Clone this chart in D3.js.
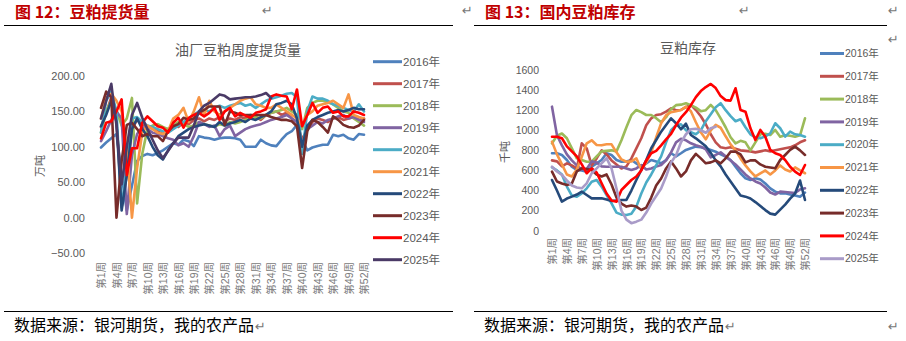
<!DOCTYPE html>
<html><head><meta charset="utf-8">
<script src="https://cdn.jsdelivr.net/npm/d3@7/dist/d3.min.js"></script>
<style>
body{margin:0;background:#fff;}
svg{display:block;}
text{font-family:"Liberation Sans","Noto Sans CJK SC",sans-serif;}
.cjk{font-family:"Noto Sans CJK SC","Liberation Sans",sans-serif;}
</style></head>
<body>
<svg id="c" width="906" height="341"></svg>
<script>
// ---------- DATA ----------
const years = ["2016年","2017年","2018年","2019年","2020年","2021年","2022年","2023年","2024年","2025年"];
const weeks = d3.range(1, 53);
const xTickWeeks = [1,4,7,10,13,16,19,22,25,28,31,34,37,40,43,46,49,52];
const leftTicks = [-50,0,50,100,150,200];
const rightTicks = [0,200,400,600,800,1000,1200,1400,1600];

// 油厂豆粕周度提货量 (万吨)
const pick2016 = [99,106,112,118,60,10,45,80,87,90,88,91,95,100,105,103,110,108,101,115,113,112,110,112,113,113,112,110,100,100,100,110,105,102,101,110,118,122,131,110,95,99,101,103,103,117,115,117,112,110,118,117];
const pick2017 = [128,148,170,140,15,60,125,138,132,128,126,122,118,125,130,128,135,132,138,140,136,140,138,142,136,140,138,142,140,145,142,138,145,148,150,145,148,140,135,110,125,135,140,138,135,140,142,138,140,142,138,140];
const pick2018 = [120,150,165,152,130,140,169,20,90,125,130,132,128,125,130,135,132,128,130,135,132,130,128,132,130,135,133,135,138,140,142,140,145,148,150,152,155,150,145,125,155,162,165,165,163,160,155,150,148,140,135,130];
const pick2019 = [108,122,138,150,140,5,88,118,128,125,120,118,115,112,110,102,105,100,115,135,132,128,130,115,125,130,115,120,125,128,130,132,135,138,140,142,145,140,135,92,125,130,135,133,138,140,143,145,140,142,138,135];
const pick2020 = [120,165,178,150,14,70,140,142,135,130,128,125,122,120,125,130,135,140,145,150,152,150,155,158,155,158,160,162,158,160,155,160,165,168,170,172,175,176,170,90,150,171,168,168,165,160,158,155,152,150,160,150];
const pick2021 = [140,170,175,165,150,100,0,70,120,130,125,120,118,122,140,145,155,135,150,170,145,165,150,145,150,155,160,165,168,170,160,158,155,155,160,155,150,145,140,130,145,150,158,160,162,165,160,155,174,145,142,140];
const pick2022 = [129,145,165,135,10,60,125,140,125,115,100,88,82,95,105,115,120,125,128,130,132,130,128,135,130,133,135,138,135,140,138,142,145,150,160,162,165,160,140,100,130,138,142,145,148,150,152,150,152,155,153,153];
const pick2023 = [155,178,170,0,80,131,134,125,115,118,115,115,108,122,129,132,141,138,140,148,152,157,157,157,131,150,148,145,145,145,145,145,145,142,140,138,138,136,129,70,122,138,135,128,120,143,138,131,128,127,130,138];
const pick2024 = [112,134,136,150,167,60,98,98,134,143,136,129,127,120,134,141,127,141,145,148,143,148,155,138,150,155,143,148,144,141,148,150,153,171,174,172,171,153,181,129,145,162,148,155,157,148,150,143,143,150,148,145];
const pick2025 = [140,165,189,130,47,100,145,162,141,125,110,95,84,94,105,113,113,113,130,150,158,162,168,174,172,167,168,169,170,170,171,173,176,169];

// 豆粕库存 (千吨)
const inv2016 = [771,771,754,704,637,604,600,588,637,670,704,771,754,704,687,690,704,670,637,670,704,690,671,704,771,740,771,804,821,837,830,820,804,787,760,737,704,637,572,522,505,522,510,470,422,389,372,372,360,350,339,380];
const inv2017 = [700,690,640,670,650,620,870,820,650,720,800,760,700,660,620,640,720,820,920,1050,1119,1152,1160,1185,1219,1200,1202,1230,1252,1202,1140,1060,960,880,830,821,830,815,800,795,790,780,790,800,790,800,810,820,830,850,880,900];
const inv2018 = [870,945,968,920,820,720,704,687,687,740,790,795,800,790,900,1030,1150,1202,1180,1152,1152,1120,1080,1130,1210,1250,1255,1269,1250,1225,1190,1200,1252,1200,1119,1030,930,870,895,880,800,880,960,965,953,1003,936,950,945,936,950,1119];
const inv2019 = [1235,950,850,760,700,650,610,615,690,680,640,637,637,637,637,620,604,620,654,610,620,640,654,700,780,880,915,900,870,850,837,810,730,754,780,740,700,660,610,560,520,490,470,430,380,360,389,385,380,375,410,422];
const inv2020 = [630,600,560,440,350,339,372,422,488,505,438,355,273,180,160,156,170,240,370,480,560,650,740,880,1000,1050,1060,1000,980,960,1000,1090,1160,1230,1269,1200,1140,1090,1110,1030,960,930,920,940,970,1070,1020,936,986,960,953,936];
const inv2021 = [887,760,660,560,540,610,737,870,900,854,850,860,860,780,710,687,690,721,610,680,780,930,1070,1150,1180,1190,1202,1235,1190,1080,980,910,1000,1053,1025,940,860,800,720,650,590,540,570,600,560,600,650,610,590,630,600,572];
const inv2022 = [505,400,289,320,339,360,389,355,322,322,322,310,295,300,305,306,400,505,604,704,821,903,986,1053,1119,1070,1010,1065,953,920,880,840,775,700,640,560,490,420,350,339,320,285,245,205,170,160,210,260,320,370,500,306];
const inv2023 = [588,490,470,455,470,590,621,615,604,560,540,560,460,330,270,240,250,240,206,230,330,450,520,620,690,620,540,590,700,765,720,671,680,700,671,720,787,787,760,680,700,700,660,637,630,621,704,754,804,837,800,754];
const inv2024 = [936,936,920,840,790,740,660,572,621,580,472,370,300,289,405,455,505,540,600,700,771,795,850,910,965,1050,1125,1180,1250,1330,1390,1430,1461,1420,1340,1300,1295,1418,1202,1185,1020,903,1003,936,804,771,754,704,637,588,555,654];
const inv2025 = [637,590,555,500,450,430,422,472,572,620,671,721,620,420,200,110,75,90,110,180,270,345,420,540,680,750,880,960,1010,1015,1000,975,1020,1036];

const leftSeries  = [pick2016,pick2017,pick2018,pick2019,pick2020,pick2021,pick2022,pick2023,pick2024,pick2025];
const rightSeries = [inv2016,inv2017,inv2018,inv2019,inv2020,inv2021,inv2022,inv2023,inv2024,inv2025];

const baseColors = ["#4F81BD","#C0504D","#9BBB59","#8064A2","#4BACC6","#F79646","#254A7A","#772C2A","#FF0000"];
const leftColors  = baseColors.concat(["#4A3A66"]);
const rightColors = baseColors.concat(["#A99BC8"]);

// ---------- DRAW ----------
const svg = d3.select("#c");
const gray = "#595959";
const lightGray = "#7a7a7a";

function retMark(x, y){
  svg.append("text").attr("x",x).attr("y",y).attr("font-size",13).attr("fill","#777")
     .style("font-family","DejaVu Sans").text("↵");
}

// headers
svg.append("text").attr("class","cjk").attr("x",15).attr("y",18).attr("font-size",16).attr("font-weight","bold")
   .attr("fill","#C00000").text("图 12：豆粕提货量");
svg.append("text").attr("class","cjk").attr("x",485).attr("y",18).attr("font-size",16).attr("font-weight","bold")
   .attr("fill","#C00000").text("图 13：国内豆粕库存");
retMark(262,15); retMark(462,15); retMark(739,15); retMark(888,15); retMark(888,44);
svg.append("line").attr("x1",4).attr("x2",453).attr("y1",25.5).attr("y2",25.5).attr("stroke","#000").attr("stroke-width",1);
svg.append("line").attr("x1",474).attr("x2",887).attr("y1",25.5).attr("y2",25.5).attr("stroke","#000").attr("stroke-width",1);
svg.append("line").attr("x1",4).attr("x2",453).attr("y1",311.5).attr("y2",311.5).attr("stroke","#000").attr("stroke-width",1);
svg.append("line").attr("x1",474).attr("x2",887).attr("y1",311.5).attr("y2",311.5).attr("stroke","#000").attr("stroke-width",1);
svg.append("text").attr("class","cjk").attr("x",14).attr("y",331).attr("font-size",16).attr("fill","#000").text("数据来源：银河期货，我的农产品");
svg.append("text").attr("class","cjk").attr("x",484).attr("y",331).attr("font-size",16).attr("fill","#000").text("数据来源：银河期货，我的农产品");
retMark(255,331); retMark(725,331); retMark(888,331);

function chart(cfg){
  const x = d3.scalePoint().domain(weeks).range(cfg.xr);
  const y = d3.scaleLinear().domain(cfg.yd).range(cfg.yr);
  // title
  svg.append("text").attr("class","cjk").attr("x",cfg.titleX).attr("y",cfg.titleY).attr("text-anchor","middle")
     .attr("font-size",14).attr("fill",gray).text(cfg.title);
  // y axis
  const ya = svg.append("g").attr("transform",`translate(${cfg.yLabelX},0)`)
     .call(d3.axisLeft(y).tickValues(cfg.ticks).tickFormat(cfg.fmt).tickSize(0).tickPadding(0));
  ya.select(".domain").remove();
  ya.selectAll("text").attr("fill",gray).attr("font-size",cfg.tickFs).style("font-family","Liberation Sans");
  // y title
  svg.append("text").attr("class","cjk").attr("transform",`translate(${cfg.ytX},${cfg.ytY}) rotate(-90)`)
     .attr("text-anchor","middle").attr("dy","0.35em").attr("font-size",11).attr("fill",gray).text(cfg.ytitle);
  // x axis
  const xa = svg.append("g").attr("transform",`translate(0,${cfg.xLabelY})`)
     .call(d3.axisBottom(x).tickValues(xTickWeeks).tickFormat(w => "第" + w + "周").tickSize(0).tickPadding(0));
  xa.select(".domain").remove();
  xa.selectAll("text").attr("transform","rotate(-90)").attr("x",0).attr("y",0).attr("dy","0.35em")
     .style("text-anchor","end").attr("fill",lightGray).attr("font-size",cfg.xFs)
     .style("font-family","Liberation Sans, Noto Sans CJK SC");
  // lines
  const line = d3.line().x((d,i)=>x(weeks[i])).y(d=>y(d));
  cfg.series.forEach((s,k)=>{
    svg.append("path").datum(s).attr("d",line).attr("fill","none").attr("stroke",cfg.colors[k])
       .attr("stroke-width",2.6).attr("stroke-linejoin","round").attr("stroke-linecap","round");
  });
  // legend
  years.forEach((yr,k)=>{
    const ly = cfg.legY + k*cfg.legStep;
    svg.append("line").attr("x1",cfg.legX1).attr("x2",cfg.legX2).attr("y1",ly).attr("y2",ly)
       .attr("stroke",cfg.colors[k]).attr("stroke-width",3);
    svg.append("text").attr("x",cfg.legX2+1).attr("y",ly).attr("dy","0.35em").attr("font-size",cfg.legFs)
       .attr("fill",gray).text(yr);
  });
}

chart({xr:[101,364], yd:[-50,200], yr:[253,76], title:"油厂豆粕周度提货量", titleX:238, titleY:55,
  ticks:leftTicks, fmt:d3.format(".2f"), yLabelX:85, tickFs:11, ytitle:"万吨", ytX:40, ytY:166,
  xLabelY:262, xFs:10.5, series:leftSeries, colors:leftColors,
  legX1:373, legX2:402, legY:61.7, legStep:22, legFs:11.5});

chart({xr:[552,805], yd:[0,1600], yr:[230.7,70], title:"豆粕库存", titleX:688, titleY:53,
  ticks:rightTicks, fmt:d3.format("d"), yLabelX:539, tickFs:10.5, ytitle:"千吨", ytX:505, ytY:152,
  xLabelY:238, xFs:10.5, series:rightSeries, colors:rightColors,
  legX1:820, legX2:844, legY:53.5, legStep:22.8, legFs:10.5});
</script>
</body></html>
